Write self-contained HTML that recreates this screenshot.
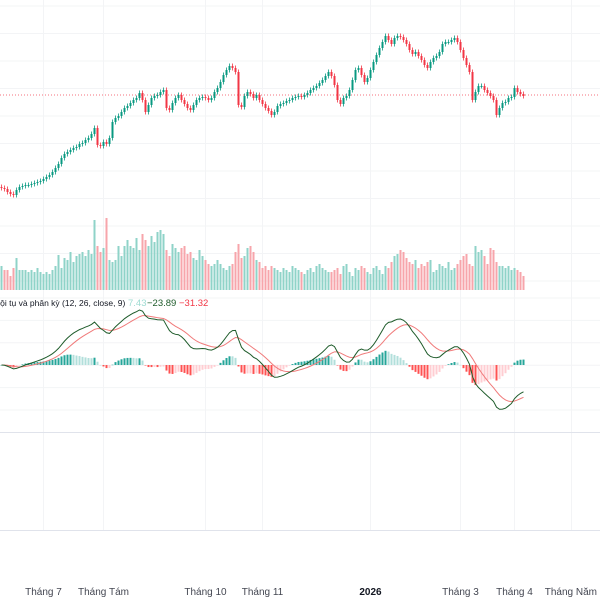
<!DOCTYPE html>
<html><head><meta charset="utf-8">
<style>
html,body{margin:0;padding:0;background:#fff;width:600px;height:600px;overflow:hidden;font-family:"Liberation Sans",sans-serif}
svg{position:absolute;left:0;top:0}
.lg{position:absolute;top:298px;font-size:9.5px;white-space:nowrap;font-family:'Liberation Sans','DejaVu Sans',sans-serif}
</style></head>
<body>
<svg id="chart" width="600" height="600"></svg>
<script>
const closes=[12,11,8,6,5,10,13,14,15,15,16,17,18,19,21,23,25,28,32,36,
42,46,48,50,52,53,56,57,60,62,66,72,55,54,58,56,62,78,82,84,
88,92,94,97,100,102,107,100,88,95,102,104,105,108,110,92,90,97,102,105,
100,96,92,90,95,100,102,103,102,100,102,108,112,118,125,130,134,132,128,95,
93,104,108,106,102,105,100,96,92,89,85,88,94,96,97,99,100,102,103,104,
103,105,107,110,112,114,117,120,124,128,124,115,100,96,102,104,110,120,130,132,
125,118,122,130,138,145,152,158,164,160,156,162,164,163,160,156,150,146,148,144,
140,135,132,138,142,144,148,156,158,158,160,162,158,150,142,135,128,100,108,114,
114,110,107,104,100,85,92,97,98,102,103,112,108,106,104];
const volumes=[24,20,20,14,22,32,20,20,20,18,20,18,22,18,16,18,16,20,24,35,
22,32,30,38,28,34,36,38,34,40,36,70,44,38,42,72,30,28,30,44,
34,44,50,44,42,52,40,56,50,44,54,48,58,60,56,40,34,46,42,38,
42,44,36,38,32,30,40,34,30,26,24,26,30,26,22,20,24,26,38,46,
32,34,42,44,38,30,28,22,24,20,24,22,20,18,22,20,18,24,22,20,
18,16,20,22,18,24,26,22,20,18,18,20,22,16,24,26,18,14,22,20,
24,22,18,16,22,24,20,16,24,22,28,34,36,40,38,32,28,26,30,22,
26,24,28,30,18,20,26,24,22,28,20,22,26,30,34,36,26,24,44,38,
40,34,26,42,40,28,24,24,22,24,20,22,20,18,14];
const tickLabels=["Tháng 7","Tháng Tám","Tháng 10","Tháng 11","2026","Tháng 3","Tháng 4","Tháng Năm"];
const tickIndex=[14,34,68,87,123,153,171,190];
const lastPrice=105;

const svg=document.getElementById('chart');
const NS='http://www.w3.org/2000/svg';
function mk(tag,attrs,parent){const e=document.createElementNS(NS,tag);for(const k in attrs)e.setAttribute(k,attrs[k]);(parent||svg).appendChild(e);return e;}
const xS=i=>1.5+i*3;
const yP=v=>200-(v)*1;
const yV=v=>290-v;
const zeroM=365;

const grid=mk('g',{});


for(let y=6;y<290;y+=27.5)mk('line',{x1:0,x2:600,y1:y,y2:y,stroke:'#f3f4f6','stroke-width':1},grid);
for(let y=298;y<432;y+=22.4)mk('line',{x1:0,x2:600,y1:y,y2:y,stroke:'#f3f4f6','stroke-width':1},grid);
tickIndex.forEach(i=>mk('line',{x1:xS(i),x2:xS(i),y1:0,y2:530,stroke:'#f3f4f6','stroke-width':1},grid));
mk('line',{x1:0,x2:600,y1:432.5,y2:432.5,stroke:'#e0e3eb','stroke-width':1},grid);
mk('line',{x1:0,x2:600,y1:530.5,y2:530.5,stroke:'#e0e3eb','stroke-width':1},grid);

const lp=mk('line',{x1:0,x2:600,y1:yP(lastPrice),y2:yP(lastPrice),stroke:'#f23645','stroke-width':1,'stroke-dasharray':'1 2',opacity:0.7});



const vg=mk('g',{});


volumes.forEach((v,i)=>{
  const o=i?closes[i-1]:closes[0];const up=closes[i]>=o;
  const r=mk('rect',{x:xS(i)-1,y:yV(v),width:2,height:v,fill:up?'#8fd3c8':'#f7a5ab'},vg);
  
  
});

const cg=mk('g',{});


closes.forEach((c,i)=>{
  const o=i?closes[i-1]:c+1;const up=c>=o;const col=up?'#089981':'#f23645';
  const hi=Math.max(o,c)+2.5,lo=Math.min(o,c)-2.5;
  const g=mk('g',{},cg);
  
  
  mk('line',{x1:xS(i),x2:xS(i),y1:yP(hi),y2:yP(lo),stroke:col,'stroke-width':0.8},g);
  const t=yP(Math.max(o,c)),b=yP(Math.min(o,c));
  mk('rect',{x:xS(i)-1,y:t,width:2,height:Math.max(1,b-t),fill:col},g);
});

function ema(a,n){const k=2/(n+1);const r=[];a.forEach((v,i)=>r.push(i?v*k+r[i-1]*(1-k):v));return r;}
const e12=ema(closes,12),e26=ema(closes,26);
const macd=e12.map((v,i)=>v-e26[i]);
const sig=ema(macd,9);
const hist=macd.map((v,i)=>v-sig[i]);
const mAbs=Math.max(...macd.map(Math.abs));
const kM=55/mAbs;
const yM=v=>zeroM-v*kM;
const hg=mk('g',{});


hist.forEach((h,i)=>{
  const prev=i?hist[i-1]:0;
  const col=h>=0?(h>=prev?'#26a69a':'#b2dfdb'):(h<prev?'#ff5252':'#ffcdd2');
  const y1=yM(Math.max(h,0)),y2=yM(Math.min(h,0));
  const r=mk('rect',{x:xS(i)-1,y:y1,width:2,height:Math.max(0.5,y2-y1),fill:col},hg);
  
  
});
const sl=mk('polyline',{points:sig.map((v,i)=>xS(i)+','+yM(v)).join(' '),fill:'none',stroke:'#f07a7a','stroke-width':1});


const ml=mk('polyline',{points:macd.map((v,i)=>xS(i)+','+yM(v)).join(' '),fill:'none',stroke:'#1e5b2a','stroke-width':1});



const xg=mk('g',{});


tickLabels.forEach((t,j)=>{
  const last=j===tickLabels.length-1;
  const e=mk('text',{x:last?597:xS(tickIndex[j]),y:595,'text-anchor':last?'end':'middle','font-size':'10',fill:t==='2026'?'#131722':'#434651','font-weight':t==='2026'?'bold':'normal'},xg);
  e.textContent=t;
  
  
});
</script>
<div class="lg" style="left:-6px;color:#131722;font-size:8.5px">Hội tụ và phân kỳ (12, 26, close, 9)</div>
<div class="lg" style="left:128px;color:#9fdcd2">7.43</div>
<div class="lg" style="left:147px;color:#1e5b2a">−23.89</div>
<div class="lg" style="left:179px;color:#f23645">−31.32</div>
</body></html>
